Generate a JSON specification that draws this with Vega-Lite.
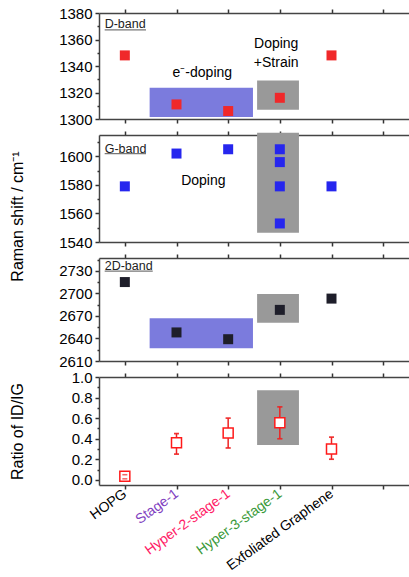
{
  "$schema": "https://vega.github.io/schema/vega-lite/v6.json",
  "padding": {"left": 9, "top": 6, "right": 0, "bottom": 0},
  "background": "white",
  "spacing": 16,
  "bounds": "flush",
  "config": {
    "font": "Liberation Sans",
    "view": {"stroke": null},
    "axis": {
      "domainColor": "#444", "domainWidth": 1.5,
      "tickColor": "#333", "tickWidth": 1.5, "tickSize": 4,
      "grid": false, "labelFont": "Liberation Sans", "labelColor": "#000",
      "labelFontSize": 15, "labelPadding": 3, "labelFlush": false, "labelOverlap": false,
      "titleFont": "Liberation Sans", "titleFontSize": 16, "titleFontWeight": "normal", "titleColor": "#000"
    }
  },
  "datasets": {
    "d": [{"s": 1, "v": 1348}, {"s": 2, "v": 1311}, {"s": 3, "v": 1306}, {"s": 4, "v": 1316}, {"s": 5, "v": 1348}],
    "g": [{"s": 1, "v": 1579}, {"s": 2, "v": 1602}, {"s": 3, "v": 1605}, {"s": 4, "v": 1605}, {"s": 4, "v": 1596}, {"s": 4, "v": 1579}, {"s": 4, "v": 1553}, {"s": 5, "v": 1579}],
    "dd": [{"s": 1, "v": 2715}, {"s": 2, "v": 2648}, {"s": 3, "v": 2639}, {"s": 4, "v": 2678}, {"s": 5, "v": 2693}],
    "ratio": [
      {"s": 1, "r": 0.035, "lo": 0.01, "hi": 0.05},
      {"s": 2, "r": 0.36, "lo": 0.25, "hi": 0.45},
      {"s": 3, "r": 0.455, "lo": 0.31, "hi": 0.60},
      {"s": 4, "r": 0.555, "lo": 0.40, "hi": 0.71},
      {"s": 5, "r": 0.30, "lo": 0.20, "hi": 0.415}
    ],
    "rd": [{"kind": "e-doping", "a": 1.48, "b": 3.48, "lo": 1301.5, "hi": 1323.5}, {"kind": "doping+strain", "a": 3.56, "b": 4.37, "lo": 1307, "hi": 1329}],
    "rg": [{"kind": "doping+strain", "a": 3.56, "b": 4.37, "lo": 1546.5, "hi": 1616.6}],
    "rdd": [{"kind": "e-doping", "a": 1.48, "b": 3.48, "lo": 2627, "hi": 2667}, {"kind": "doping+strain", "a": 3.56, "b": 4.37, "lo": 2661, "hi": 2699}],
    "rr": [{"kind": "doping+strain", "a": 3.56, "b": 4.37, "lo": 0.34, "hi": 0.87}],
    "td": [{"t": "e⁻-doping", "s": 2.5, "v": 1334.7}, {"t": "Doping", "s": 3.93, "v": 1356.6}, {"t": "+Strain", "s": 3.93, "v": 1342.3}],
    "tg": [{"t": "Doping", "s": 2.52, "v": 1582.6}],
    "bd": [{"t": "D-band", "s": 0.61, "v": 1371.7, "s2": 1.41, "u": 1367.2}],
    "bg": [{"t": "G-band", "s": 0.61, "v": 1604.9, "s2": 1.41, "u": 1601.9}],
    "bdd": [{"t": "2D-band", "s": 0.61, "v": 2736.3, "s2": 1.54, "u": 2729.6}]
  },
  "vconcat": [
    {
      "width": 310, "height": 106,
      "resolve": {"axis": {"x": "independent", "y": "independent"}},
      "layer": [
        {
          "data": {"name": "rd"},
          "mark": {"type": "rect"},
          "encoding": {
            "x": {"field": "a", "type": "quantitative", "scale": {"domain": [0.5, 6.5], "nice": false, "zero": false}, "axis": {"orient": "bottom", "values": [1, 2, 3, 4, 5, 6], "labels": false, "title": null}},
            "x2": {"field": "b"},
            "y": {"field": "lo", "type": "quantitative", "scale": {"domain": [1300, 1380], "nice": false, "zero": false}, "axis": {"orient": "left", "values": [1300, 1320, 1340, 1360, 1380], "format": "d", "title": null}},
            "y2": {"field": "hi"},
            "color": {"field": "kind", "type": "nominal", "scale": {"domain": ["e-doping", "doping+strain"], "range": ["#7b7bdd", "#999999"]}, "legend": null}
          }
        },
        {
          "data": {"name": "d"},
          "mark": {"type": "point", "shape": "square", "filled": true, "size": 100, "color": "#f0282a", "opacity": 1},
          "encoding": {
            "x": {"field": "s", "type": "quantitative", "axis": {"orient": "top", "values": [1, 2, 3, 4, 5, 6], "labels": false, "title": null}},
            "y": {"field": "v", "type": "quantitative", "axis": {"orient": "left", "values": [1310, 1330, 1350, 1370], "labels": false, "domain": false, "tickSize": 2, "title": null}}
          }
        },
        {
          "data": {"name": "td"},
          "mark": {"type": "text", "fontSize": 14, "color": "#000", "align": "center", "baseline": "middle"},
          "encoding": {
            "x": {"field": "s", "type": "quantitative", "axis": null},
            "y": {"field": "v", "type": "quantitative", "axis": null},
            "text": {"field": "t"}
          }
        },
        {
          "data": {"name": "bd"},
          "mark": {"type": "text", "fontSize": 12.5, "color": "#222", "align": "left", "baseline": "middle"},
          "encoding": {
            "x": {"field": "s", "type": "quantitative", "axis": null},
            "y": {"field": "v", "type": "quantitative", "axis": null},
            "text": {"field": "t"}
          }
        },
        {
          "data": {"name": "bd"},
          "mark": {"type": "rule", "color": "#777", "strokeWidth": 1.3},
          "encoding": {
            "x": {"field": "s", "type": "quantitative", "axis": null},
            "x2": {"field": "s2"},
            "y": {"field": "u", "type": "quantitative", "axis": null}
          }
        }
      ]
    },
    {
      "width": 310, "height": 107,
      "resolve": {"axis": {"x": "independent", "y": "independent"}},
      "layer": [
        {
          "data": {"name": "rg"},
          "mark": {"type": "rect"},
          "encoding": {
            "x": {"field": "a", "type": "quantitative", "scale": {"domain": [0.5, 6.5], "nice": false, "zero": false}, "axis": {"orient": "bottom", "values": [1, 2, 3, 4, 5, 6], "labels": false, "title": null}},
            "x2": {"field": "b"},
            "y": {"field": "lo", "type": "quantitative", "scale": {"domain": [1540, 1615], "nice": false, "zero": false}, "axis": {"orient": "left", "values": [1540, 1560, 1580, 1600], "format": "d", "title": "Raman shift / cm⁻¹", "titleX": -82, "titleY": 81, "titleAngle": 270, "titleAlign": "center", "titleBaseline": "middle"}},
            "y2": {"field": "hi"},
            "color": {"field": "kind", "type": "nominal", "scale": {"domain": ["e-doping", "doping+strain"], "range": ["#7b7bdd", "#999999"]}, "legend": null}
          }
        },
        {
          "data": {"name": "g"},
          "mark": {"type": "point", "shape": "square", "filled": true, "size": 100, "color": "#2626ee", "opacity": 1},
          "encoding": {
            "x": {"field": "s", "type": "quantitative", "axis": {"orient": "top", "values": [1, 2, 3, 4, 5, 6], "labels": false, "title": null}},
            "y": {"field": "v", "type": "quantitative", "axis": {"orient": "left", "values": [1550, 1570, 1590, 1610], "labels": false, "domain": false, "tickSize": 2, "title": null}}
          }
        },
        {
          "data": {"name": "tg"},
          "mark": {"type": "text", "fontSize": 14, "color": "#000", "align": "center", "baseline": "middle"},
          "encoding": {
            "x": {"field": "s", "type": "quantitative", "axis": null},
            "y": {"field": "v", "type": "quantitative", "axis": null},
            "text": {"field": "t"}
          }
        },
        {
          "data": {"name": "bg"},
          "mark": {"type": "text", "fontSize": 12.5, "color": "#222", "align": "left", "baseline": "middle"},
          "encoding": {
            "x": {"field": "s", "type": "quantitative", "axis": null},
            "y": {"field": "v", "type": "quantitative", "axis": null},
            "text": {"field": "t"}
          }
        },
        {
          "data": {"name": "bg"},
          "mark": {"type": "rule", "color": "#777", "strokeWidth": 1.3},
          "encoding": {
            "x": {"field": "s", "type": "quantitative", "axis": null},
            "x2": {"field": "s2"},
            "y": {"field": "u", "type": "quantitative", "axis": null}
          }
        }
      ]
    },
    {
      "width": 310, "height": 103,
      "resolve": {"axis": {"x": "independent", "y": "independent"}},
      "layer": [
        {
          "data": {"name": "rdd"},
          "mark": {"type": "rect"},
          "encoding": {
            "x": {"field": "a", "type": "quantitative", "scale": {"domain": [0.5, 6.5], "nice": false, "zero": false}, "axis": {"orient": "bottom", "values": [1, 2, 3, 4, 5, 6], "labels": false, "title": null}},
            "x2": {"field": "b"},
            "y": {"field": "lo", "type": "quantitative", "scale": {"domain": [2610, 2747], "nice": false, "zero": false}, "axis": {"orient": "left", "values": [2610, 2640, 2670, 2700, 2730], "format": "d", "title": null}},
            "y2": {"field": "hi"},
            "color": {"field": "kind", "type": "nominal", "scale": {"domain": ["e-doping", "doping+strain"], "range": ["#7b7bdd", "#999999"]}, "legend": null}
          }
        },
        {
          "data": {"name": "dd"},
          "mark": {"type": "point", "shape": "square", "filled": true, "size": 100, "color": "#1e1e2a", "opacity": 1},
          "encoding": {
            "x": {"field": "s", "type": "quantitative", "axis": {"orient": "top", "values": [1, 2, 3, 4, 5, 6], "labels": false, "title": null}},
            "y": {"field": "v", "type": "quantitative", "axis": {"orient": "left", "values": [2625, 2655, 2685, 2715, 2745], "labels": false, "domain": false, "tickSize": 2, "title": null}}
          }
        },
        {
          "data": {"name": "bdd"},
          "mark": {"type": "text", "fontSize": 12.5, "color": "#222", "align": "left", "baseline": "middle"},
          "encoding": {
            "x": {"field": "s", "type": "quantitative", "axis": null},
            "y": {"field": "v", "type": "quantitative", "axis": null},
            "text": {"field": "t"}
          }
        },
        {
          "data": {"name": "bdd"},
          "mark": {"type": "rule", "color": "#777", "strokeWidth": 1.3},
          "encoding": {
            "x": {"field": "s", "type": "quantitative", "axis": null},
            "x2": {"field": "s2"},
            "y": {"field": "u", "type": "quantitative", "axis": null}
          }
        }
      ]
    },
    {
      "width": 310, "height": 108,
      "resolve": {"axis": {"x": "independent", "y": "independent"}},
      "layer": [
        {
          "data": {"name": "rr"},
          "mark": {"type": "rect"},
          "encoding": {
            "x": {"field": "a", "type": "quantitative", "scale": {"domain": [0.5, 6.5], "nice": false, "zero": false}, "axis": {"orient": "bottom", "values": [1, 2, 3, 4, 5, 6], "title": null, "labelFontSize": 14, "labelAngle": -36, "labelAlign": "right", "labelBaseline": "middle", "labelPadding": 3, "labelDx": 2,
              "labelExpr": "['', 'HOPG', 'Stage-1', 'Hyper-2-stage-1', 'Hyper-3-stage-1', 'Exfoliated Graphene', ''][datum.value]",
              "labelColor": {"condition": [{"test": "datum.value == 2", "value": "#7f3fbf"}, {"test": "datum.value == 3", "value": "#ff1a66"}, {"test": "datum.value == 4", "value": "#3a9a3a"}], "value": "#000"}}},
            "x2": {"field": "b"},
            "y": {"field": "lo", "type": "quantitative", "scale": {"domain": [-0.05, 1.0], "nice": false, "zero": false}, "axis": {"orient": "left", "values": [0, 0.2, 0.4, 0.6, 0.8, 1.0], "format": ".1f", "title": "Ratio of ID/IG", "titleX": -82, "titleY": 54, "titleAngle": 270, "titleAlign": "center", "titleBaseline": "middle"}},
            "y2": {"field": "hi"},
            "color": {"field": "kind", "type": "nominal", "scale": {"domain": ["e-doping", "doping+strain"], "range": ["#7b7bdd", "#999999"]}, "legend": null}
          }
        },
        {
          "data": {"name": "ratio"},
          "mark": {"type": "errorbar", "ticks": {"size": 5}, "thickness": 1.5, "color": "#ee2222"},
          "encoding": {
            "x": {"field": "s", "type": "quantitative", "axis": null},
            "y": {"field": "lo", "type": "quantitative", "axis": null},
            "y2": {"field": "hi"}
          }
        },
        {
          "data": {"name": "ratio"},
          "mark": {"type": "point", "shape": "square", "filled": true, "size": 100, "fill": "white", "stroke": "#ff1a1a", "strokeWidth": 1.5, "opacity": 1},
          "encoding": {
            "x": {"field": "s", "type": "quantitative", "axis": {"orient": "top", "values": [1, 2, 3, 4, 5, 6], "labels": false, "title": null}},
            "y": {"field": "r", "type": "quantitative", "axis": {"orient": "left", "values": [0.1, 0.3, 0.5, 0.7, 0.9], "labels": false, "domain": false, "tickSize": 2, "title": null}}
          }
        },
        {
          "data": {"name": "ratio"},
          "mark": {"type": "errorbar", "rule": false, "ticks": {"size": 5}, "thickness": 1.5, "color": "#ee2222"},
          "encoding": {
            "x": {"field": "s", "type": "quantitative", "axis": null},
            "y": {"field": "lo", "type": "quantitative", "axis": null},
            "y2": {"field": "hi"}
          }
        }
      ]
    }
  ]
}
